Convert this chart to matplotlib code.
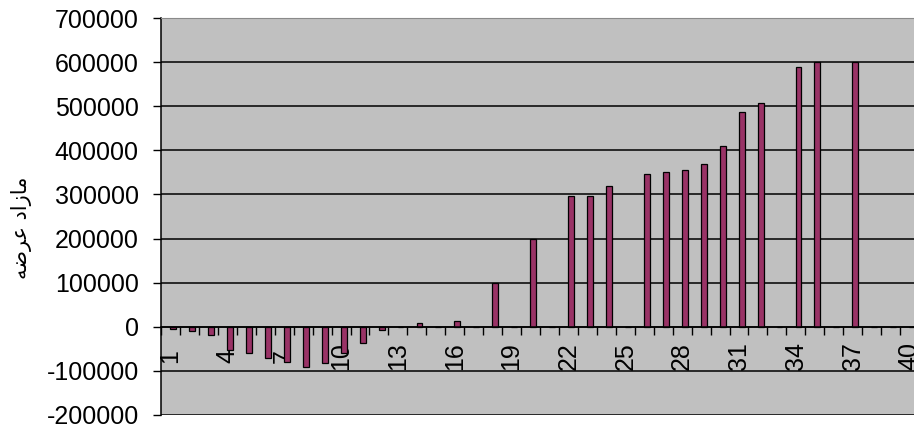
import matplotlib.pyplot as plt
import numpy as np

# data (series 2 of an Excel column chart)
categories = np.arange(1, 41)
values = [-6000, -10000, -19000, -52000, -60000, -70000, -79000, -92000, -83000, -60000,
          -37000, -8000, 0, 8000, 0, 12000, 0, 100000, 0, 200000,
          0, 297000, 297000, 320000, 0, 347000, 351000, 356000, 369000, 410000,
          487000, 508000, 0, 590000, 600000, 0, 600000, 0, 0, 0]
label_cats = np.arange(1, 41, 3)
yticks = np.arange(-200000, 700001, 100000)
ylabel = "\ufeea\ufebf\ufeae\ufecb \ufea9\ufe8d\ufeaf\ufe8e\ufee3"  # مازاد عرضه

plt.rcParams['font.family'] = ['Liberation Sans', 'DejaVu Sans']

fig = plt.figure(figsize=(9.14, 4.25), dpi=100, facecolor='white')
ax = fig.add_axes([161 / 914, 10 / 425, 758 / 914, 397 / 425])
ax.set_facecolor('#C0C0C0')

# bars sit right of centre like the 2nd series of a cluster
ax.bar(categories + 0.14, values, width=0.31, color='#993366',
       edgecolor='black', linewidth=0.9, zorder=3)

ax.set_xlim(0.5, 40.5)
ax.set_ylim(-200000, 700000)
ax.set_yticks(yticks)
ax.set_yticklabels([str(v) for v in yticks], fontsize=18)
ax.tick_params(axis='y', length=6, width=1, pad=10, color='black')

ax.yaxis.grid(True, color='black', linewidth=1.1, zorder=1)
ax.set_axisbelow(True)
for line, v in zip(ax.get_ygridlines(), yticks):
    if v == 700000:
        line.set_color('#8a8a8a')

# category axis crosses at zero
ax.spines['bottom'].set_position(('data', 0))
ax.spines['bottom'].set_linewidth(1.1)
ax.spines['bottom'].set_zorder(4)
ax.spines['top'].set_color('#8a8a8a')
ax.spines['right'].set_visible(False)
ax.spines['left'].set_linewidth(1.1)

ax.set_xticks(np.arange(0.5, 41, 1))
ax.set_xticklabels([])
ax.tick_params(axis='x', which='major', length=6, width=1, direction='out')
ax.set_xticks(label_cats, minor=True)
ax.set_xticklabels([str(c) for c in label_cats], minor=True, fontsize=18, rotation=90)
ax.tick_params(axis='x', which='minor', length=0, pad=21)
plt.setp(ax.xaxis.get_minorticklabels(), va='center')

fig.text(22 / 914, 1 - 228 / 425, ylabel, rotation=90, ha='center', va='center',
         fontsize=15, family=['DejaVu Sans'])

fig.savefig('out.png', dpi=100, facecolor='white')
